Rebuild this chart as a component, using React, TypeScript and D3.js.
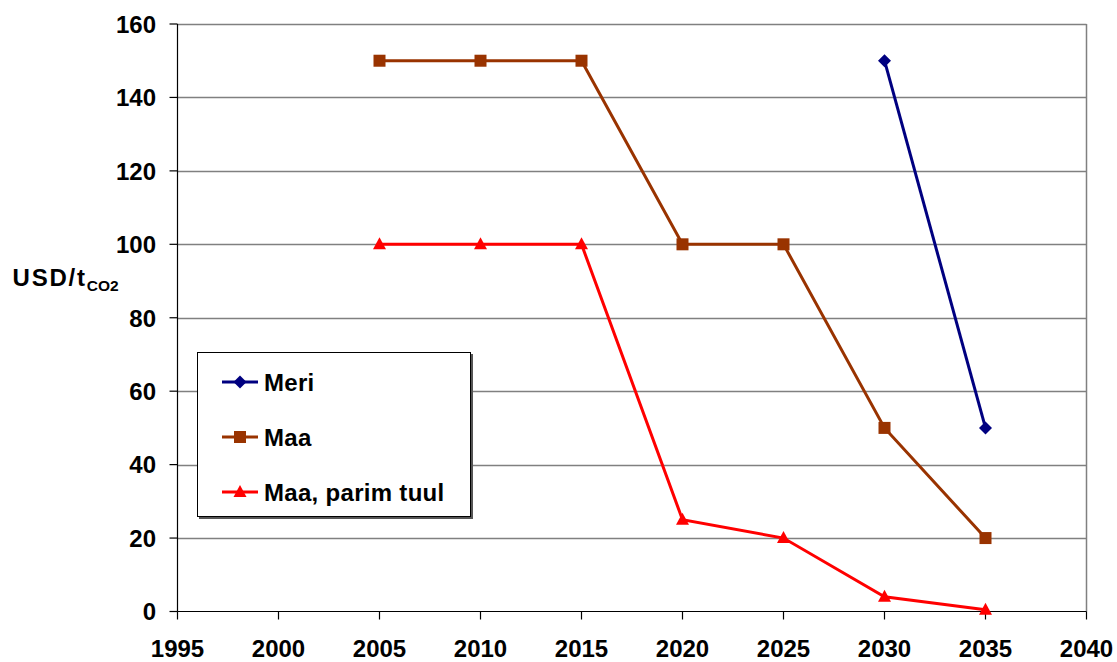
import React from "react";
import * as d3 from "d3";

const years = [2005, 2010, 2015, 2020, 2025, 2030, 2035];
const meriYears = [2030, 2035];
const meriValues = [150, 50];
const maaValues = [150, 150, 150, 100, 100, 50, 20];
const parimValues = [100, 100, 100, 25, 20, 4, 0.5];
const xTicks = [1995, 2000, 2005, 2010, 2015, 2020, 2025, 2030, 2035, 2040];
const yTicks = [0, 20, 40, 60, 80, 100, 120, 140, 160];
const seriesNames = ["Meri", "Maa", "Maa, parim tuul"];
const seriesColors = ["#000080", "#993300", "#FF0000"];

const W = 1117;
const H = 662;
const FONT = "'Liberation Sans', Arial, sans-serif";

export default function App() {
  const x = d3.scaleLinear().domain([1995, 2040]).range([177.5, 1086.5]);
  const y = d3.scaleLinear().domain([0, 160]).range([611.5, 24]);
  const line = d3
    .line<[number, number]>()
    .x((d) => x(d[0]))
    .y((d) => y(d[1]));

  const meri: [number, number][] = meriYears.map((yr, i) => [yr, meriValues[i]]);
  const maa: [number, number][] = years.map((yr, i) => [yr, maaValues[i]]);
  const parim: [number, number][] = years.map((yr, i) => [yr, parimValues[i]]);

  const diamond = (cx: number, cy: number, c: string, k: string | number) => (
    <path key={k} d={`M${cx},${cy - 6.5}L${cx + 6.5},${cy}L${cx},${cy + 6.5}L${cx - 6.5},${cy}Z`} fill={c} />
  );
  const square = (cx: number, cy: number, c: string, k: string | number) => (
    <rect key={k} x={cx - 6} y={cy - 6} width={12} height={12} fill={c} />
  );
  const triangle = (cx: number, cy: number, c: string, k: string | number) => (
    <path key={k} d={`M${cx},${cy - 7}L${cx + 6.5},${cy + 5}L${cx - 6.5},${cy + 5}Z`} fill={c} />
  );
  const markers = [diamond, square, triangle];

  const legendRowsY = [382, 437, 492];

  return (
    <svg width={W} height={H} style={{ position: "absolute", left: 0, top: 0, background: "#fff" }}>
      <rect x={0} y={0} width={W} height={H} fill="#fff" />
      {/* gridlines */}
      {yTicks.filter((t) => t > 0).map((t) => (
        <line key={t} x1={x(1995)} x2={x(2040)} y1={Math.round(y(t)) + 0.5} y2={Math.round(y(t)) + 0.5} stroke="#808080" strokeWidth={1.5} />
      ))}
      {/* right border */}
      <line x1={x(2040)} x2={x(2040)} y1={y(160)} y2={y(0)} stroke="#808080" strokeWidth={1.5} />
      {/* axes */}
      <line x1={x(1995)} x2={x(1995)} y1={y(160)} y2={y(0)} stroke="#000" strokeWidth={1.2} />
      <line x1={x(1995)} x2={x(2040)} y1={y(0)} y2={y(0)} stroke="#000" strokeWidth={1.2} />
      {yTicks.map((t) => (
        <g key={"yt" + t}>
          <line x1={x(1995) - 8} x2={x(1995)} y1={y(t)} y2={y(t)} stroke="#000" strokeWidth={1.2} />
          <text x={156} y={y(t) + 8.8} textAnchor="end" fontFamily={FONT} fontWeight="bold" fontSize={24} fill="#000">
            {t}
          </text>
        </g>
      ))}
      {xTicks.map((t) => (
        <g key={"xt" + t}>
          <line x1={x(t)} x2={x(t)} y1={y(0)} y2={y(0) + 8} stroke="#000" strokeWidth={1.2} />
          <text x={x(t)} y={657} textAnchor="middle" fontFamily={FONT} fontWeight="bold" fontSize={24} fill="#000">
            {t}
          </text>
        </g>
      ))}
      {/* y label */}
      <text x={12.5} y={285.5} fontFamily={FONT} fontWeight="bold" fontSize={24} fill="#000">
        <tspan letterSpacing={1.8}>USD/t</tspan>
        <tspan fontSize={15.5} dy={5.5}>CO2</tspan>
      </text>
      {/* series */}
      <path d={line(parim) || ""} fill="none" stroke={seriesColors[2]} strokeWidth={3} />
      <path d={line(maa) || ""} fill="none" stroke={seriesColors[1]} strokeWidth={3} />
      <path d={line(meri) || ""} fill="none" stroke={seriesColors[0]} strokeWidth={3} />
      {parim.map((d, i) => triangle(x(d[0]), y(d[1]), seriesColors[2], "p" + i))}
      {maa.map((d, i) => square(x(d[0]), y(d[1]), seriesColors[1], "m" + i))}
      {meri.map((d, i) => diamond(x(d[0]), y(d[1]), seriesColors[0], "r" + i))}
      {/* legend */}
      <rect x={199} y={354} width={274} height={165} fill="#555" />
      <rect x={197.5} y={352.5} width={273} height={164} fill="#fff" stroke="#000" strokeWidth={1} />
      {seriesNames.map((n, i) => (
        <g key={n}>
          <line x1={222} x2={258} y1={legendRowsY[i]} y2={legendRowsY[i]} stroke={seriesColors[i]} strokeWidth={3} />
          {markers[i](240, legendRowsY[i], seriesColors[i], "lm" + i)}
          <text x={264} y={legendRowsY[i] + 8.5} fontFamily={FONT} fontWeight="bold" fontSize={24} letterSpacing={0.3} fill="#000">
            {n}
          </text>
        </g>
      ))}
    </svg>
  );
}
